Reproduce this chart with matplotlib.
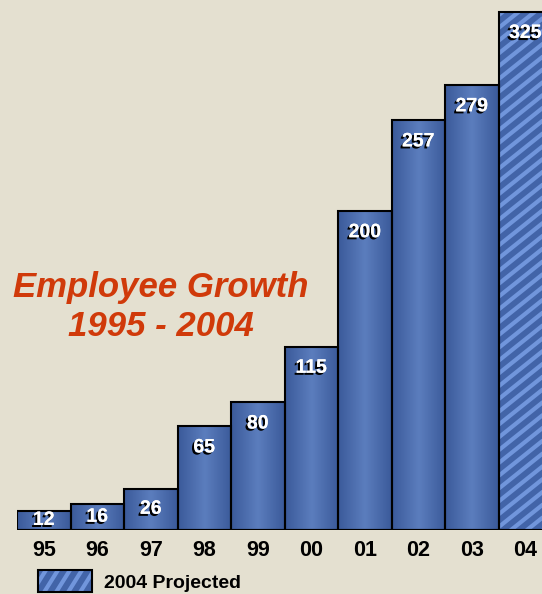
import matplotlib

matplotlib.use("Agg")

import matplotlib.patheffects as pe
import matplotlib.pyplot as plt
import numpy as np
from matplotlib.lines import Line2D
from matplotlib.patches import Rectangle
from matplotlib.transforms import IdentityTransform

years = ["95", "96", "97", "98", "99", "00", "01", "02", "03", "04"]
employees = [12, 16, 26, 65, 80, 115, 200, 257, 279, 325]
projected = [False] * 9 + [True]

BG = "#e4e0d0"
BAR = "#4264a8"
STRIPE = "#7196dc"
TITLE = "#d03a0a"

plt.rcParams["font.family"] = ["Liberation Sans", "DejaVu Sans"]


def add_stripes(target, clip, x0, y0, w, h, step=16, slope=0.8):
    # diagonal stripes in pixel space, clipped to the patch
    n = int((w + h / slope) / step) + 2
    for k in range(-n, n):
        xs = [x0 + k * step, x0 + k * step + (h + 20) / slope]
        ys = [y0 - 10, y0 + h + 10]
        ln = Line2D(xs, ys, color=STRIPE, linewidth=3, transform=IdentityTransform(),
                    zorder=3, solid_capstyle="butt")
        target.add_artist(ln)
        ln.set_clip_path(clip)


fig = plt.figure(figsize=(5.42, 5.94), dpi=100, facecolor=BG)
ax = fig.add_axes([17 / 542, 64 / 594, 525 / 542, 530 / 594])
ax.set_facecolor(BG)
ax.set_xlim(0, 525 / 53.5)
ax.set_ylim(0, 530 / 1.594)
for s in ax.spines.values():
    s.set_visible(False)
ax.set_yticks([])
ax.set_xticks([])

# horizontal shading inside each bar: darker edges, lighter middle
grad = np.abs(np.linspace(-1, 1, 64))[None, :]
cmap = matplotlib.colors.LinearSegmentedColormap.from_list("bar", ["#5b7dbd", "#3b5a9a"])

for i, (yr, val, proj) in enumerate(zip(years, employees, projected)):
    rect = Rectangle((i, 0), 1, val, facecolor=BAR, edgecolor="none", zorder=2)
    ax.add_patch(rect)
    if proj:
        x0, y0 = ax.transData.transform((i, 0))
        x1, y1 = ax.transData.transform((i + 1, val))
        add_stripes(ax, rect, x0, y0, x1 - x0, y1 - y0)
    else:
        im = ax.imshow(grad, cmap=cmap, extent=(i, i + 1, 0, val), aspect="auto", zorder=2.5)
        im.set_clip_path(rect)
    ax.add_patch(Rectangle((i, 0), 1, val, facecolor="none", edgecolor="black",
                           linewidth=1.5, zorder=4))
    ax.text(i + 0.5, max(val - 13.5, val * 0.5), str(val), ha="center", va="center", color="white",
            fontsize=14, fontweight="bold", zorder=5,
            path_effects=[pe.withSimplePatchShadow(offset=(-1.5, -1.5), shadow_rgbFace="black", alpha=1),
                          pe.Normal()])
    fig.text((17 + (i + 0.5) * 53.5) / 542, 1 - 551 / 594, yr, ha="center", va="center",
             fontsize=15.5, fontweight="bold", color="black")

ax.axhline(0, color="black", linewidth=1.5, zorder=4)

fig.text(161 / 542, 1 - 307 / 594, "Employee Growth\n1995 - 2004", ha="center", va="center",
         fontsize=25, fontweight="bold", fontstyle="italic", color=TITLE, linespacing=1.2)

# legend
leg_bg = Rectangle((38 / 542, 1 - 592 / 594), 54 / 542, 22 / 594, transform=fig.transFigure,
                   facecolor=BAR, edgecolor="none")
fig.patches.append(leg_bg)
add_stripes(fig, leg_bg, 38, 2, 54, 22, step=12, slope=1.6)
fig.patches.append(Rectangle((38 / 542, 1 - 592 / 594), 54 / 542, 22 / 594, transform=fig.transFigure,
                             facecolor="none", edgecolor="black", linewidth=1.5, zorder=4))
fig.text(104 / 542, 1 - 583 / 594, "2004 Projected", ha="left", va="center",
         fontsize=14, fontweight="bold", color="black")

fig.savefig("out.png", dpi=100, facecolor=BG)
